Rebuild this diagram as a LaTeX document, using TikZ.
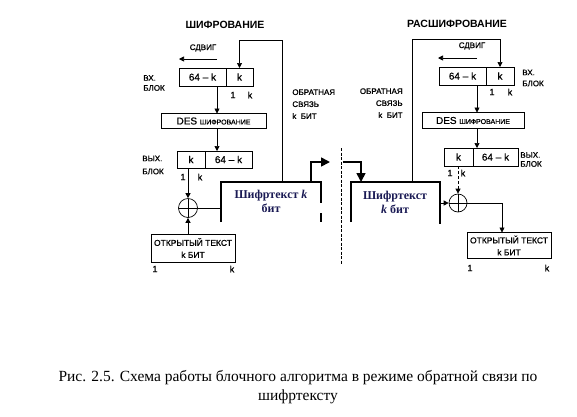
\documentclass[tikz,border=0pt]{standalone}
\usepackage{fontspec}
\setmainfont{Liberation Serif}
\setsansfont{Liberation Sans}
\newfontfamily\labfont{Liberation Sans}[FakeBold=0.7, Ligatures=TeX]
\usetikzlibrary{arrows.meta,positioning}
\definecolor{ctblue}{RGB}{26,26,84}
\tikzset{
  cell/.style  = {draw, minimum height=18pt, inner sep=0pt, outer sep=0pt,
                  font=\labfont\fontsize{10}{11}\selectfont},
  lbl/.style   = {inner sep=0pt, font=\labfont\fontsize{8}{10}\selectfont},
  num/.style   = {inner sep=0pt, font=\labfont\fontsize{9}{10}\selectfont},
  ttl/.style   = {inner sep=0pt, font=\sffamily\bfseries\fontsize{10.5}{12}\selectfont},
  xor/.style   = {draw, circle, inner sep=0pt, minimum size=19pt,
                  path picture={\draw (path picture bounding box.north) -- (path picture bounding box.south)
                                      (path picture bounding box.west) -- (path picture bounding box.east);}},
  arr/.style   = {-{Triangle[length=5pt,width=5pt]}},
  big/.style   = {line width=1.6pt, -{Triangle[length=9pt,width=9pt]}},
  wall/.style  = {line width=1.6pt},
  ctext/.style = {inner sep=0pt, align=center, text=ctblue,
                  font=\rmfamily\bfseries\fontsize{12}{14}\selectfont},
  plain/.style = {cell, minimum width=84pt, align=center,
                  font=\labfont\fontsize{8.5}{12}\selectfont},
}
\begin{document}
\begin{tikzpicture}[x=1pt,y=-1pt,line width=0.7pt]
  \useasboundingbox (0,0) rectangle (577,416);

  % encryption
  \node[ttl] (etit) at (225,25) {ШИФРОВАНИЕ};
  \node[lbl] (esh) at (203,48) {СДВИГ};
  \coordinate (esha) at (217,59);
  \coordinate (eshb) at (179,59);
  \draw[arr] (esha) -- (eshb);
  \node[cell, minimum width=47pt] (ein1) at (202.5,77) {64 -- k};
  \node[cell, minimum width=27pt, right=0pt of ein1] (ein2) {k};
  \node[lbl, anchor=west, align=left] (einl) at (143,83) {ВХ.\\БЛОК};
  \node[num] at (233,95) {1};
  \node[num] at (250,95) {k};
  \coordinate (eax) at (217,0);
  \node[cell, minimum width=105pt, minimum height=15pt] (edes) at (213.5,121)
    {DES {\fontsize{7}{8}\selectfont ШИФРОВАНИЕ}};
  \draw[arr] (ein1.south -| eax) -- (eax |- edes.north);
  \node[cell, minimum width=28pt, minimum height=17pt] (eout1) at (191,159.5) {k};
  \node[cell, minimum width=47pt, minimum height=17pt, right=0pt of eout1] (eout2) {64 -- k};
  \draw[arr] (edes.south -| eax) -- (eax |- eout2.north);
  \node[lbl, anchor=west, align=left] (eoutl) at (142,165) {ВЫХ.\\[3pt]БЛОК};
  \node[num] at (183,177) {1};
  \node[num] at (200,177) {k};
  \node[xor] (exor) at (188,208) {};
  \draw[arr] (eout1.south -| exor) -- (exor.north);
  \node[plain, minimum height=28pt] (eplain) at (193,248) {ОТКРЫТЫЙ ТЕКСТ\\k БИТ};
  \draw[arr] (eplain.north -| exor) -- (exor.south);
  \node[num] at (155,269) {1};
  \node[num] at (232,269) {k};
  \coordinate (ecnw) at (221,182);
  \coordinate (ecne) at (321,182);
  \draw[wall] (ecnw) ++(0,40) |- (ecne) -- ++(0,21);
  \draw[wall] (ecne) ++(0,31) -- ++(0,9);
  \node[ctext] (ect) at (271,201) {Шифртекст \textit{k}\\бит};
  \draw (exor.east) -- (exor -| ecnw);
  \coordinate (efb) at (282,182);
  \coordinate (efbtop) at (282,40);
  \draw[arr] (efb) -- (efbtop) -| (ein2.north);
  \node[lbl, anchor=north west, align=left, font=\labfont\fontsize{8}{12}\selectfont] (efbl)
    at (292,89) {ОБРАТНАЯ\\СВЯЗЬ\\k\ \ БИТ};
  \coordinate (eup) at (311,182);
  \coordinate (eend) at (330,162);
  \draw[big] (eup) |- (eend);

  % channel
  \coordinate (sept) at (341,148);
  \coordinate (sepb) at (341,264);
  \draw[line width=1pt, dash pattern=on 3pt off 1.5pt] (sept) -- (sepb);

  % decryption
  \coordinate (dfrom) at (343,162);
  \coordinate (dcin) at (361,182);
  \draw[big] (dfrom) -| (dcin);
  \coordinate (dcnw) at (351,182);
  \coordinate (dcne) at (440,182);
  \draw[wall] (dcnw) ++(0,40) |- (dcne) -- ++(0,42);
  \node[ctext] (dct) at (395,202) {Шифртекст\\\textit{k} бит};
  \node[ttl] (dtit) at (457,24) {РАСШИФРОВАНИЕ};
  \node[lbl] (dsh) at (472,46) {СДВИГ};
  \coordinate (dsha) at (477,58);
  \coordinate (dshb) at (438,58);
  \draw[arr] (dsha) -- (dshb);
  \node[cell, minimum width=47pt] (din1) at (462.5,76) {64 -- k};
  \node[cell, minimum width=28pt, right=0pt of din1] (din2) {k};
  \node[lbl, anchor=west, align=left] (dinl) at (522,78) {ВХ.\\[1pt]БЛОК};
  \node[num] at (492,92) {1};
  \node[num] at (510,92) {k};
  \coordinate (dfb) at (412,182);
  \coordinate (dfbtop) at (412,39);
  \draw[arr] (dfb) -- (dfbtop) -| (din2.north);
  \node[lbl, anchor=north east, align=right, font=\labfont\fontsize{8}{12}\selectfont] (dfbl)
    at (403,88) {ОБРАТНАЯ\\СВЯЗЬ\\k\ \ БИТ};
  \coordinate (dax) at (477,0);
  \node[cell, minimum width=102pt, minimum height=16pt] (ddes) at (473,120.5)
    {DES {\fontsize{7}{8}\selectfont ШИФРОВАНИЕ}};
  \draw[arr] (din1.south -| dax) -- (dax |- ddes.north);
  \node[cell, minimum width=29pt] (dout1) at (458.5,157) {k};
  \node[cell, minimum width=45pt, right=0pt of dout1] (dout2) {64 -- k};
  \draw[arr] (ddes.south -| dax) -- (dax |- dout1.north);
  \node[lbl, anchor=west, align=left] (doutl) at (520,159.5) {ВЫХ.\\[-1pt]БЛОК};
  \node[num] at (450,173) {1};
  \node[num] at (463,173) {k};
  \node[xor, minimum size=18pt] (dxor) at (458,203) {};
  \draw[arr, densely dashed] (dout1.south -| dxor) -- (dxor.north);
  \draw[arr] (dcne |- dxor) -- (dxor.west);
  \node[plain, minimum height=26pt] (dplain) at (509,245.5) {ОТКРЫТЫЙ ТЕКСТ\\k БИТ};
  \coordinate (dpx) at (502,0);
  \draw[arr] (dxor.east) -| (dpx |- dplain.north);
  \node[num] at (470,268) {1};
  \node[num] at (547,268) {k};

  % caption
  \node[align=center, font=\rmfamily\fontsize{15.5}{19}\selectfont] (cap) at (298,387)
    {Рис. 2.5. Схема работы блочного алгоритма в режиме обратной связи по\\шифртексту};
\end{tikzpicture}
\end{document}
